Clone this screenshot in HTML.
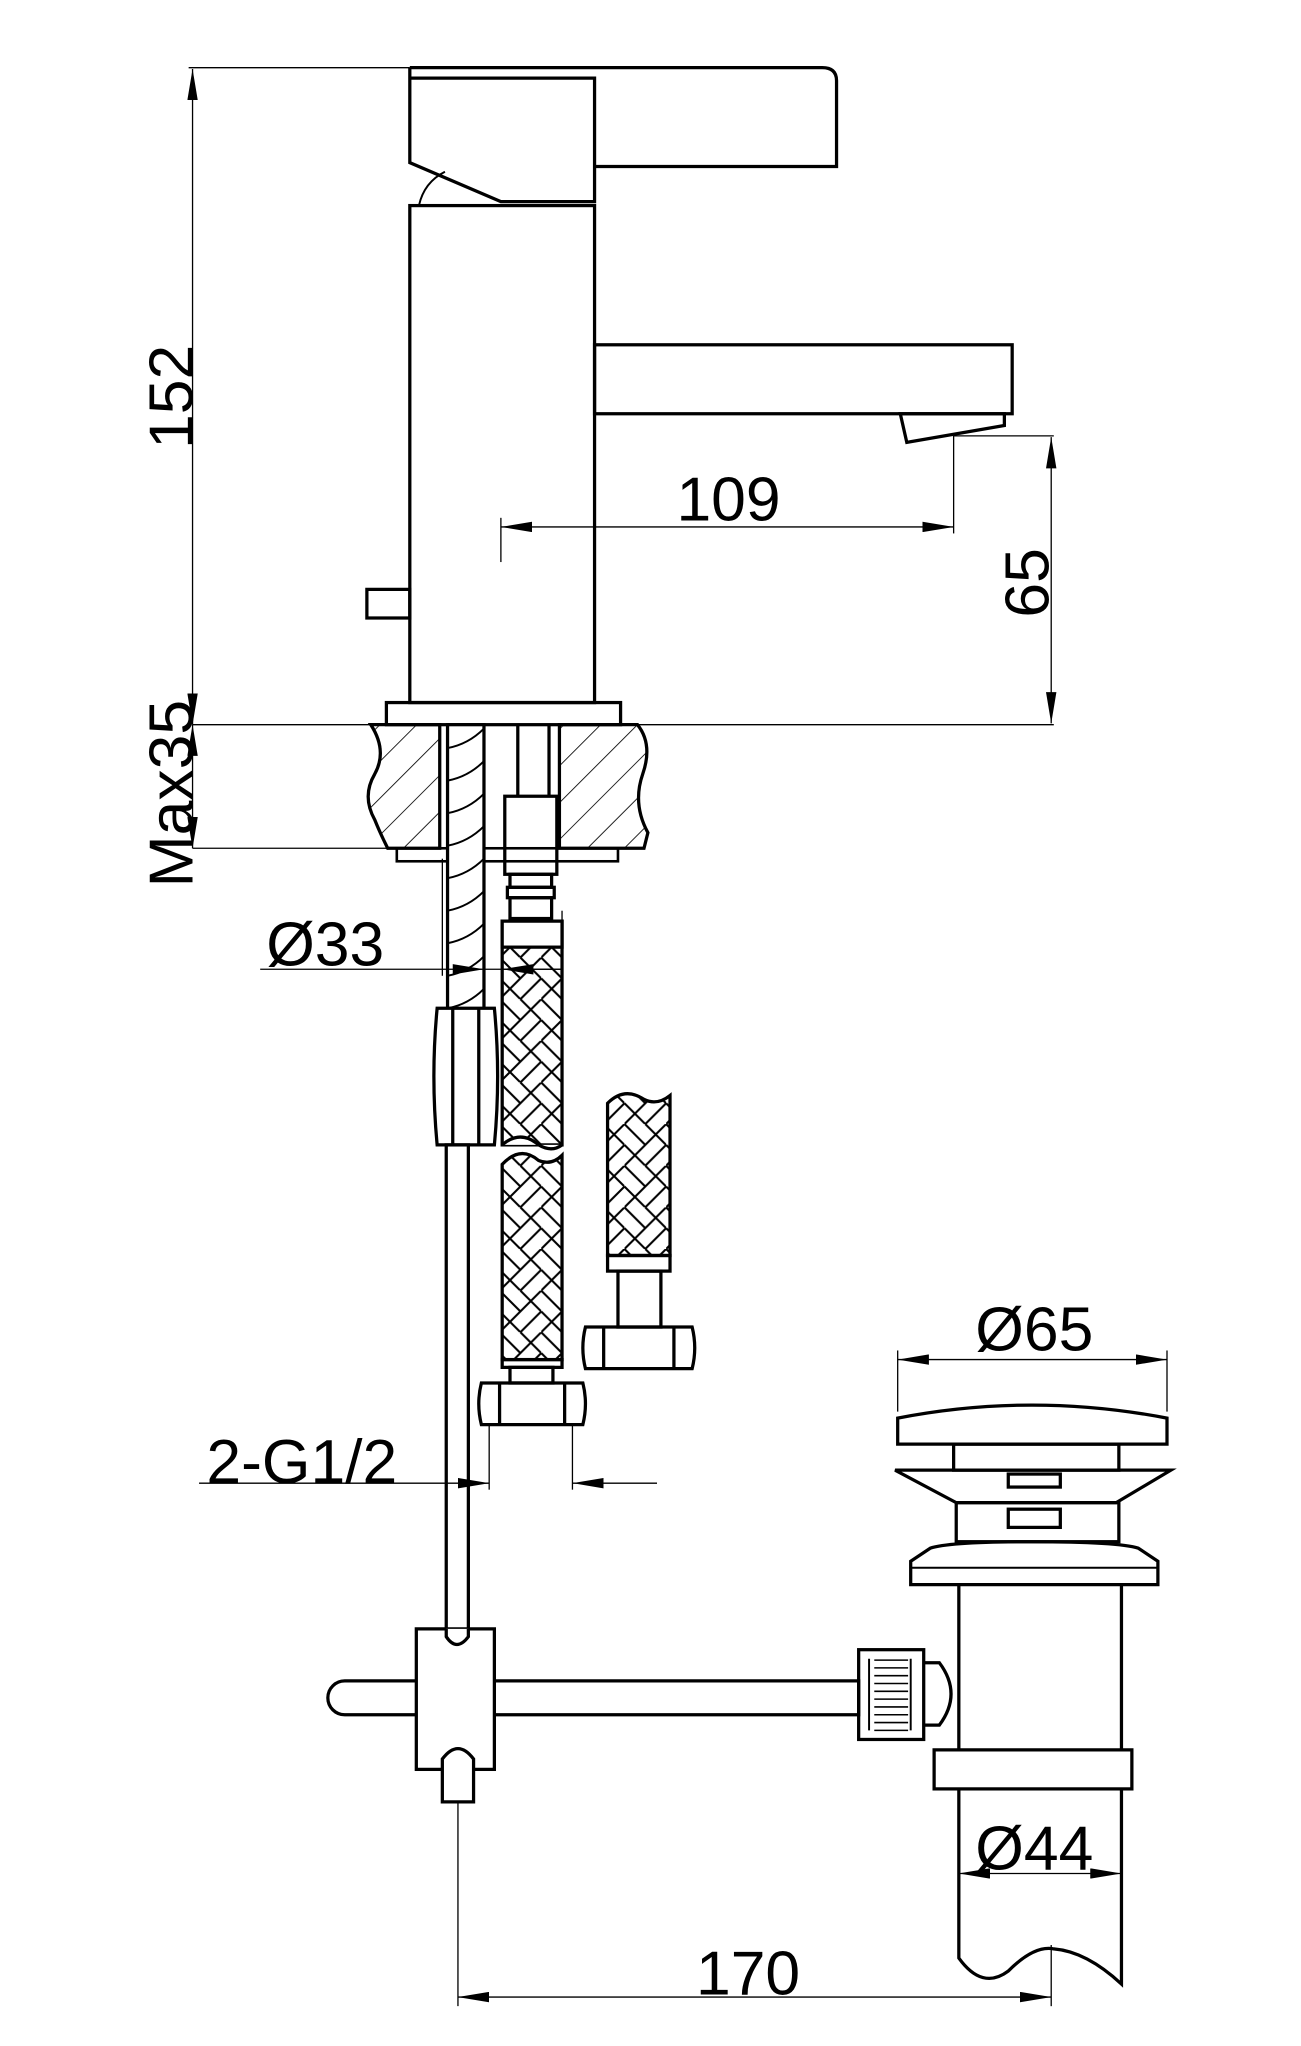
<!DOCTYPE html>
<html><head><meta charset="utf-8"><style>
html,body{margin:0;padding:0;background:#fff}
svg{display:block}
text{font-family:"Liberation Sans",sans-serif;fill:#000}
</style></head><body>
<svg width="1301" height="2046" viewBox="0 0 1000 1572.6" xmlns="http://www.w3.org/2000/svg">
<defs>
<pattern id="hatch" width="20" height="20" patternUnits="userSpaceOnUse" patternTransform="rotate(45)">
<line x1="0" y1="0" x2="0" y2="20" stroke="#000" stroke-width="1.3"/>
</pattern>
<pattern id="braid" width="32" height="32" patternUnits="userSpaceOnUse">
<path d="M0 0 L16 16 L0 32 M16 0 L32 16 L16 32 M16 16 L32 0 M0 16 L16 32" stroke="#000" stroke-width="1.6" fill="none"/>
</pattern>
<marker id="b" viewBox="0 0 24 8" refX="24" refY="4" markerWidth="24" markerHeight="8" markerUnits="userSpaceOnUse" orient="auto-start-reverse">
<path d="M0 0 L24 4 L0 8z" fill="#000"/>
</marker>
</defs>
<g fill="none" stroke="#000" stroke-width="2.5">
<path d="M315 52 H632 Q643 52 643 62 V128 H457"/>
<path d="M315 52 V125 L385 155 H457 V60 H315"/>
<path d="M322 158 Q326 140 342 132" stroke-width="1.5"/>
<rect x="315" y="158" width="142" height="382"/>
<rect x="457" y="265" width="321" height="53"/>
<path d="M692 318 H772 V327 L697 340 Z"/>
<rect x="282" y="453" width="33" height="22"/>
<rect x="297" y="540" width="180" height="17"/>
<path d="M285 557 H338 V652 H298 Q292 640 288 630 Q278 612 288 595 Q298 577 285 557 Z" fill="url(#hatch)"/>
<path d="M430 557 H490 Q502 572 494 595 Q486 618 498 640 L495 652 H430 Z" fill="url(#hatch)"/>
<rect x="305" y="652" width="170" height="10" stroke-width="2"/>
<rect x="344" y="557" width="28" height="228" fill="#fff"/>
<path d="M344 575 Q360 572 372 560 M344 600 Q360 597 372 585 M344 625 Q360 622 372 610 M344 650 Q360 647 372 635 M344 675 Q360 672 372 660 M344 700 Q360 697 372 685 M344 725 Q360 722 372 710 M344 750 Q360 747 372 735 M344 775 Q360 772 372 760" stroke-width="1.5"/>
<line x1="398" y1="557" x2="398" y2="612"/><line x1="422" y1="557" x2="422" y2="612"/>
<rect x="388" y="612" width="40" height="60"/>
<rect x="392" y="672" width="32" height="10"/>
<rect x="390" y="682" width="36" height="8"/>
<rect x="392" y="690" width="32" height="16"/>
<rect x="386" y="708" width="46" height="172" fill="url(#braid)"/>
<rect x="386" y="708" width="46" height="20" fill="#fff"/>
<path d="M386 880 Q400 868 414 880 Q424 886 432 880" fill="#fff"/>
<path d="M386 895 Q400 880 414 892 Q424 896 432 888 V1045 H386 Z" fill="url(#braid)"/>
<rect x="386" y="1045" width="46" height="6"/>
<rect x="392" y="1051" width="33" height="12"/>
<path d="M370 1063 H448 Q452 1079 448 1095 H370 Q366 1079 370 1063 Z M384 1063 V1095 M434 1063 V1095"/>
<path d="M467 848 Q480 835 495 845 Q505 850 515 842 V965 H467 Z" fill="url(#braid)"/>
<rect x="467" y="965" width="48" height="12"/>
<rect x="475" y="977" width="33" height="43"/>
<path d="M450 1020 H532 Q536 1036 532 1052 H450 Q446 1036 450 1020 Z M464 1020 V1052 M518 1020 V1052"/>
<path d="M336 775 H380 Q385 827 380 880 H336 Q331 827 336 775 Z M348 775 V880 M368 775 V880" fill="#fff"/>
<rect x="343" y="880" width="17" height="385"/>
<path d="M265 1292 H660 V1318 H265 A13 13 0 0 1 265 1292 Z" fill="#fff"/>
<rect x="320" y="1252" width="60" height="108" fill="#fff"/>
<path d="M343 1252 V1258 Q351 1270 360 1258 V1252" fill="#fff"/>
<path d="M340 1385 V1352 Q352 1336 364 1352 V1385 Z" fill="#fff"/>
<rect x="660" y="1268" width="50" height="69"/>
<path d="M668 1275 V1330 M700 1275 V1330" stroke-width="1.5"/>
<path d="M672 1276 H698 M672 1282 H698 M672 1288 H698 M672 1294 H698 M672 1300 H698 M672 1306 H698 M672 1312 H698 M672 1318 H698 M672 1324 H698 M672 1330 H698" stroke-width="1.2"/>
<path d="M710 1278 H722 Q740 1302 722 1326 H710"/>
<path d="M690 1110 V1090 Q793 1070 897 1090 V1110 Z"/>
<rect x="733" y="1110" width="127" height="20"/>
<path d="M688 1130 H900 L858 1155 H735 Z"/>
<rect x="775" y="1133" width="40" height="10"/>
<rect x="735" y="1155" width="125" height="30"/>
<rect x="775" y="1160" width="40" height="14"/>
<path d="M700 1218 V1200 L715 1190 Q730 1185 793 1185 Q860 1185 875 1190 L890 1200 V1218 Z"/>
<line x1="700" y1="1205" x2="890" y2="1205" stroke-width="1.5"/>
<path d="M737 1218 V1345 M862 1218 V1345"/>
<rect x="718" y="1345" width="152" height="30"/>
<path d="M737 1375 V1505 Q755 1530 775 1515 Q795 1495 810 1498 Q835 1500 862 1525 V1375"/>
</g>
<g stroke="#000" stroke-width="1" fill="none">
<line x1="145" y1="52" x2="315" y2="52"/>
<line x1="148" y1="53" x2="148" y2="557" marker-start="url(#b)" marker-end="url(#b)"/>
<line x1="148" y1="557" x2="810" y2="557"/>
<line x1="148" y1="557" x2="148" y2="652" marker-start="url(#b)" marker-end="url(#b)"/>
<line x1="148" y1="652" x2="305" y2="652"/>
<line x1="385" y1="405" x2="733" y2="405" marker-start="url(#b)" marker-end="url(#b)"/>
<line x1="385" y1="398" x2="385" y2="432"/>
<line x1="733" y1="335" x2="733" y2="410"/>
<line x1="733" y1="335" x2="810" y2="335"/>
<line x1="808" y1="336" x2="808" y2="556" marker-start="url(#b)" marker-end="url(#b)"/>
<line x1="200" y1="745" x2="372" y2="745" marker-end="url(#b)"/>
<line x1="372" y1="745" x2="432" y2="745"/>
<line x1="386" y1="745" x2="432" y2="745" marker-start="url(#b)"/>
<line x1="340" y1="660" x2="340" y2="750"/><line x1="432" y1="700" x2="432" y2="750"/>
<line x1="153" y1="1140" x2="376" y2="1140" marker-end="url(#b)"/>
<line x1="440" y1="1140" x2="505" y2="1140" marker-start="url(#b)"/>
<line x1="376" y1="1095" x2="376" y2="1145"/><line x1="440" y1="1095" x2="440" y2="1145"/>
<line x1="690" y1="1045" x2="897" y2="1045" marker-start="url(#b)" marker-end="url(#b)"/>
<line x1="690" y1="1038" x2="690" y2="1085"/><line x1="897" y1="1038" x2="897" y2="1085"/>
<line x1="737" y1="1440" x2="862" y2="1440" marker-start="url(#b)" marker-end="url(#b)"/>
<line x1="352" y1="1385" x2="352" y2="1542"/>
<line x1="808" y1="1495" x2="808" y2="1542"/>
<line x1="352" y1="1535" x2="808" y2="1535" marker-start="url(#b)" marker-end="url(#b)"/>
</g>
<g font-size="48">
<text x="148" y="305" text-anchor="middle" transform="rotate(-90 148 305)">152</text>
<text x="148" y="610" text-anchor="middle" transform="rotate(-90 148 610)">Max35</text>
<text x="560" y="400" text-anchor="middle">109</text>
<text x="806" y="448" text-anchor="middle" transform="rotate(-90 806 448)">65</text>
<text x="250" y="742" text-anchor="middle">Ø33</text>
<text x="232" y="1140" text-anchor="middle">2-G1/2</text>
<text x="795" y="1038" text-anchor="middle">Ø65</text>
<text x="795" y="1437" text-anchor="middle">Ø44</text>
<text x="575" y="1533" text-anchor="middle">170</text>
</g>
</svg>
</body></html>
